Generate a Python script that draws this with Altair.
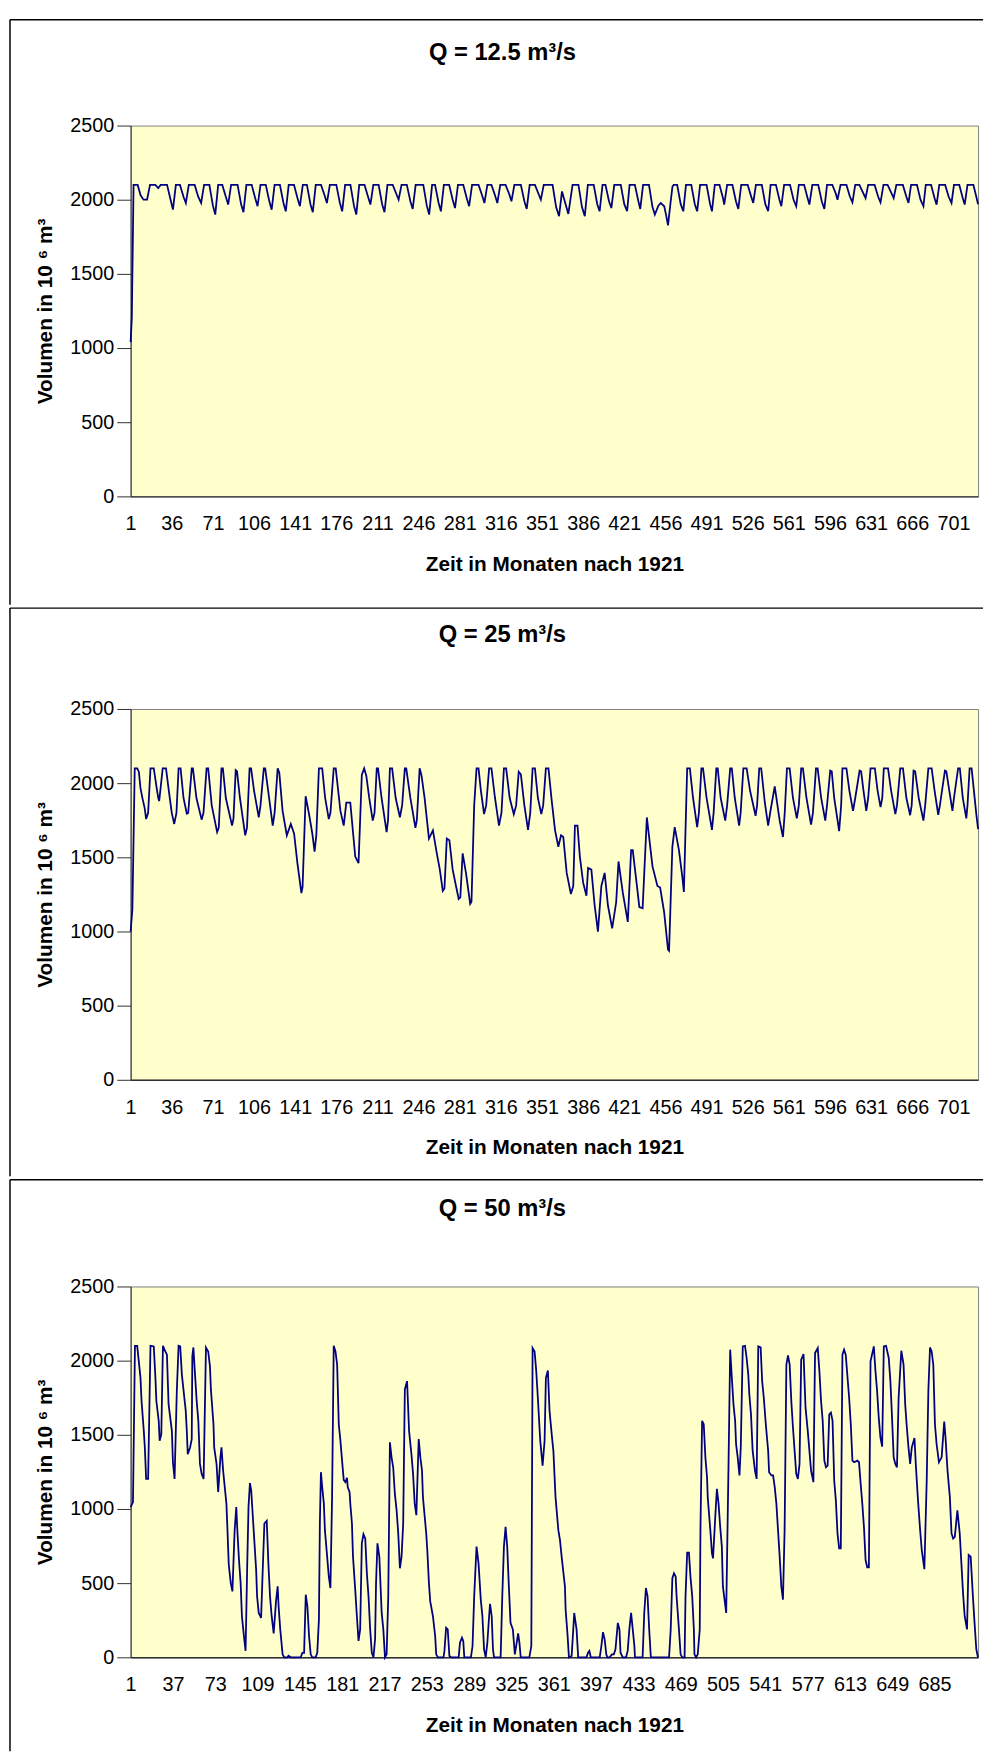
import altair as alt
import pandas as pd

# ---------------------------------------------------------------- texts
TITLES = ["Q = 12.5 m³/s", "Q = 25 m³/s", "Q = 50 m³/s"]
X_TITLE = "Zeit in Monaten nach 1921"
Y_TITLE = "Volumen in 10  ⁶ m³"

# ---------------------------------------------------------------- tick labels
X_TICKS_35 = [1, 36, 71, 106, 141, 176, 211, 246, 281, 316, 351, 386, 421,
              456, 491, 526, 561, 596, 631, 666, 701]
X_TICKS_36 = [1, 37, 73, 109, 145, 181, 217, 253, 289, 325, 361, 397, 433,
              469, 505, 541, 577, 613, 649, 685]
Y_TICKS = [0, 500, 1000, 1500, 2000, 2500]
X_DOMAIN = [1, 722]

# ---------------------------------------------------------------- series (month, volume in 10^6 m3)
P1 = [
    (1, 1040), (2, 1200), (3.5, 2100), (7, 2100), (9.5, 2030), (12, 2000), (15, 2000), (17.5, 2100),
    (22, 2100), (24.5, 2078), (26.5, 2100), (32, 2100), (35, 2000), (37, 1933), (39.5, 2100),
    (43, 2100), (46, 2020), (48, 1978), (50.5, 2100), (55.5, 2100), (58.5, 2020), (61, 1978), (63.5, 2100),
    (68, 2100), (71, 1960), (73, 1900), (75.5, 2100), (79, 2100), (82, 2020), (84, 1967), (86.5, 2100),
    (92, 2100), (95, 1970), (97, 1916), (99.5, 2100), (104, 2100), (107, 2010), (109, 1956), (111.5, 2100),
    (116, 2100), (119, 1990), (121, 1933), (123.5, 2100), (128, 2100), (131, 1980), (133, 1922), (135.5, 2100),
    (140, 2100), (143, 2010), (145, 1956), (147.5, 2100), (151, 2100), (154, 1970), (156, 1916), (158.5, 2100),
    (163, 2100), (166, 2030), (168, 1978), (170.5, 2100), (176, 2100), (179, 1980), (181, 1922), (183.5, 2100),
    (188, 2100), (191, 1960), (193, 1900), (195.5, 2100), (200, 2100), (203, 2020), (205, 1967), (207.5, 2100),
    (212, 2100), (215, 1970), (217, 1916), (219.5, 2100), (224, 2100), (227, 2040), (229, 2000), (231.5, 2100),
    (236, 2100), (239, 1990), (241, 1938), (243.5, 2100), (250, 2100), (253, 1960), (255, 1900), (257.5, 2100),
    (260, 2100), (263, 1980), (265, 1922), (267.5, 2100), (272, 2100), (275, 2000), (277, 1944), (279.5, 2100),
    (284, 2100), (287, 2010), (289, 1956), (291.5, 2100), (297, 2100), (300, 2030), (302, 1978), (304.5, 2100),
    (308, 2100), (311, 2030), (313, 1978), (315.5, 2100), (320, 2100), (323, 2040), (325, 1989), (327.5, 2100),
    (333, 2100), (336, 1990), (338, 1938), (340.5, 2100), (345, 2100), (348, 2040), (350, 2000), (352.5, 2100),
    (360, 2100), (363, 1950), (365.5, 1889), (368, 2056), (370, 2000), (373.4, 1904), (377, 2100),
    (382, 2100), (385, 1950), (387.4, 1889), (390, 2100), (395, 2100), (398, 1970), (400, 1922), (402.5, 2100),
    (405, 2100), (408, 1990), (410, 1944), (412.5, 2100), (418, 2100), (421, 1970), (423.4, 1922), (425.5, 2100),
    (430, 2100), (433, 1990), (434.6, 1938), (437, 2100), (442, 2100), (445, 1950), (447, 1900), (450, 1960),
    (452, 1978), (455, 1956), (456.5, 1900), (458.2, 1827), (460.5, 1990), (462, 2089), (463, 2100),
    (466, 2100), (469, 1970), (471.2, 1922), (473.5, 2100), (478, 2100), (481, 1970), (483, 1922), (485.5, 2100),
    (491, 2100), (494, 1970), (495.6, 1922), (498, 2100), (502, 2100), (505, 2010), (506, 1967), (508.5, 2100),
    (513, 2100), (516, 1990), (518, 1938), (520.5, 2100), (526, 2100), (529, 2020), (530.7, 1978), (533, 2100),
    (538, 2100), (541, 1970), (543.4, 1922), (545.5, 2100), (550, 2100), (553, 2000), (554.6, 1956), (557, 2100),
    (562, 2100), (565, 2000), (567.3, 1956), (569.5, 2100), (574, 2100), (577, 2010), (578.5, 1967), (581, 2100),
    (586, 2100), (589, 1990), (591.2, 1938), (593.5, 2100), (598, 2100), (601, 2040), (602.4, 2000), (605, 2100),
    (610, 2100), (613, 2020), (615.1, 1982), (617.5, 2100), (621, 2100), (624, 2050), (626.3, 2011), (628.5, 2100),
    (634, 2100), (637, 2020), (639, 1982), (641.5, 2100), (645, 2100), (648, 2050), (650.2, 2011), (652.5, 2100),
    (658, 2100), (661, 2020), (662.8, 1978), (665, 2100), (670, 2100), (673, 2000), (675.5, 1956), (677.5, 2100),
    (682, 2100), (685, 2010), (686.7, 1967), (689, 2100), (694, 2100), (697, 2020), (699.4, 1978), (701.5, 2100),
    (706, 2100), (709, 2010), (710.6, 1967), (713, 2100), (718, 2100), (720.5, 2020), (722, 1970),
]

P2 = [
    (1, 1000), (2.5, 1150), (4.5, 2100), (6.6, 2100), (8, 2077), (9.4, 1967), (11, 1901), (13, 1830),
    (14.2, 1758), (15.9, 1800), (17.9, 2100), (20.7, 2100), (23.5, 1950), (24.5, 1901), (25.3, 1879),
    (28.3, 2100), (31.1, 2100), (33.5, 1950), (36, 1800), (38.1, 1725), (40, 1800), (41.8, 2100),
    (43.5, 2100), (46, 1900), (48.8, 1795), (50, 1800), (53, 2100), (54, 2100), (57, 1900), (61.4, 1754),
    (63, 1800), (65.6, 2100), (67, 2100), (70, 1850), (74.6, 1670), (76, 1700), (78.3, 2100), (79.5, 2100),
    (82, 1900), (87.3, 1714), (88.5, 1760), (90.4, 2088), (91.5, 2080), (94, 1900), (98.5, 1648), (100, 1700),
    (102.2, 2100), (103.5, 2100), (106, 1950), (110, 1770), (111.5, 1850), (114.3, 2100), (115.5, 2100),
    (118, 1950), (121.9, 1714), (123.5, 1800), (126.1, 2100), (127.5, 2070), (130.3, 1813), (133.9, 1648),
    (137.3, 1725), (140.1, 1659), (142.9, 1461), (146.3, 1259), (147.3, 1300), (149.9, 1912), (152.8, 1791),
    (155.6, 1659), (157.5, 1538), (159, 1650), (161.2, 2100), (164, 2100), (166.5, 1900), (169.6, 1758),
    (171, 1800), (173.8, 2100), (175.5, 2100), (179.5, 1813), (182.3, 1714), (184.5, 1868), (187.9, 1868),
    (192.1, 1505), (194.9, 1461), (197.7, 2055), (199.7, 2100), (201.5, 2050), (204, 1900), (207, 1747),
    (208.5, 1800), (210.4, 2100), (211.5, 2100), (214.5, 1900), (218.8, 1670), (220, 1750), (221.6, 2100),
    (223.5, 2100), (226.5, 1900), (230.1, 1770), (232, 1850), (234.3, 2100), (235.5, 2100), (239, 1900),
    (243.3, 1699), (244.5, 1750), (246.9, 2100), (248.5, 2050), (251.1, 1901), (254.8, 1626), (258.2, 1681),
    (261.5, 1527), (264, 1420), (266.6, 1274), (268, 1290), (270, 1626), (272.2, 1615), (275, 1417),
    (278, 1300), (280.1, 1219), (281.5, 1230), (283.5, 1527), (286.3, 1395), (289.9, 1186), (291, 1200),
    (293.3, 1850), (295.3, 2100), (297, 2100), (299, 1950), (301.7, 1791), (303.5, 1850), (306, 2100),
    (308, 2100), (311, 1900), (314.4, 1714), (316.5, 1800), (318.6, 2100), (320.5, 2100), (323.5, 1900),
    (327, 1791), (329, 1850), (331.2, 2077), (333, 2060), (336, 1850), (339.1, 1685), (341, 1800),
    (343, 2100), (345, 2100), (347.5, 1900), (350.4, 1791), (352, 1850), (354.3, 2100), (356.5, 2100),
    (359.3, 1879), (362.1, 1681), (364.9, 1571), (367.2, 1648), (369.1, 1637), (372, 1395), (375.6, 1252),
    (377.6, 1307), (379, 1714), (381.2, 1714), (383.2, 1505), (386, 1329), (388.8, 1241), (390.2, 1428),
    (393, 1417), (395.8, 1175), (398.6, 999), (401.5, 1307), (404.3, 1395), (407.1, 1175), (410.7, 1021),
    (414.1, 1197), (416.1, 1472), (419.7, 1263), (424, 1065), (426.8, 1549), (428.2, 1549), (432.4, 1263),
    (433.8, 1164), (436.6, 1157), (440.2, 1769), (445, 1439), (449.2, 1307), (451.5, 1296), (454.9, 1131),
    (458.2, 878), (459.1, 870), (461.9, 1571), (463.9, 1703), (467.5, 1549), (470.3, 1373), (471.7, 1267),
    (474.5, 2100), (476.8, 2100), (479.5, 1900), (483, 1703), (484.5, 1800), (486.6, 2100), (488, 2100),
    (491, 1900), (495.6, 1685), (497, 1800), (499.3, 2100), (500.5, 2100), (503, 1900), (506.9, 1747),
    (508.5, 1850), (511.1, 2100), (512.5, 2100), (515, 1900), (518.7, 1714), (520, 1800), (522.3, 2100),
    (525.1, 2100), (528, 1950), (532.7, 1780), (534, 1850), (535.8, 2100), (537.5, 2100), (540.6, 1868),
    (543.4, 1714), (545.6, 1824), (549, 1978), (553.2, 1747), (556, 1637), (557.5, 1800), (559.4, 2100),
    (561.7, 2100), (564.5, 1900), (567.8, 1762), (569.5, 1850), (571.5, 2100), (573, 2100), (576, 1900),
    (579.9, 1721), (581.5, 1800), (584.1, 2100), (585.5, 2100), (588.5, 1900), (592, 1747), (593.5, 1850),
    (596.2, 2085), (597.5, 2080), (599.6, 1900), (603.8, 1677), (605.5, 1850), (606.6, 2100), (610, 2100),
    (612.5, 1950), (615.6, 1813), (617.5, 1900), (621.2, 2085), (622.5, 2080), (624.5, 1950), (626.9, 1813),
    (628.5, 1900), (630.5, 2100), (634.2, 2100), (636.5, 1950), (639, 1839), (640.5, 1900), (641.8, 2100),
    (645.4, 2100), (648, 1950), (651.6, 1791), (653, 1850), (655.8, 2100), (658.1, 2100), (661, 1900),
    (664.2, 1784), (665.5, 1850), (667.1, 2085), (668.5, 2080), (671.5, 1900), (675.5, 1747), (677, 1850),
    (679.7, 2100), (682.5, 2100), (685, 1950), (688.1, 1787), (689.5, 1850), (693.8, 2085), (695, 2080),
    (697.5, 1950), (700.2, 1813), (701.5, 1900), (705, 2100), (706.5, 2100), (709, 1900), (712, 1762),
    (713, 1850), (714.8, 2100), (716.5, 2100), (720.5, 1791), (722, 1690),
]

P3 = [
    (1, 1013), (3, 1047), (4.7, 2100), (6.6, 2100), (9.4, 1884), (10.3, 1728), (12.2, 1527), (13.1, 1415),
    (14.2, 1203), (15.9, 1203), (17.9, 2100), (20.7, 2096), (22.1, 1884), (22.9, 1728), (24.9, 1594),
    (25.7, 1460), (27.1, 1504), (28.5, 2100), (30.5, 2062), (31.9, 2040), (33.3, 1705), (36.1, 1527),
    (37, 1315), (38.4, 1203), (40.3, 1795), (41.8, 2100), (43.2, 2096), (44.6, 1906), (47.9, 1661),
    (48.8, 1527), (49.6, 1370), (51.6, 1415), (53, 1471), (53.5, 2029), (54.4, 2089), (55.8, 1906),
    (57.2, 1728), (58.6, 1594), (60, 1304), (61.4, 1237), (63.1, 1203), (65.1, 2089), (67, 2062),
    (68.5, 1962), (69.3, 1806), (71.5, 1571), (72.1, 1415), (74.1, 1304), (75.5, 1114), (77.4, 1348),
    (78.3, 1415), (79.7, 1259), (81.1, 1147), (82.5, 1036), (83.3, 879), (84.5, 624), (86.2, 500),
    (87.6, 444), (89.5, 857), (90.9, 1013), (91.8, 857), (93.2, 656), (94.6, 500), (95.7, 277), (97.4, 143),
    (98.8, 43), (100.2, 620), (101.3, 1013), (102.5, 1174), (103.6, 1125), (105, 946), (106.4, 768),
    (107.8, 589), (108.6, 411), (110, 299), (112, 266), (113.4, 589), (114.8, 902), (116.8, 920),
    (118.2, 634), (119.6, 411), (121, 277), (122.7, 161), (124.7, 377), (126.1, 478), (126.9, 344),
    (128.3, 188), (130.3, 20), (131.7, 0), (134.5, 0), (135.3, 10), (137.3, 0), (145.7, 0), (147.1, 30),
    (148.6, 30), (150, 422), (151.4, 344), (152.8, 143), (154.2, 20), (155.6, 0), (158.4, 0), (159.8, 30),
    (161.2, 255), (162, 902), (162.9, 1248), (164, 1147), (165.4, 1036), (166.3, 857), (168.2, 679),
    (169.6, 545), (171, 467), (172.4, 1080), (173.8, 2100), (175.3, 2062), (176.7, 1973), (178.1, 1571),
    (179.5, 1460), (180.9, 1326), (182.3, 1196), (183.7, 1181), (185.1, 1210), (185.7, 1147), (187.3, 1114),
    (187.9, 1036), (189.3, 902), (190.2, 679), (192.1, 455), (193.5, 277), (194.9, 111), (196.3, 188),
    (197.7, 768), (199.1, 830), (200.6, 801), (202, 567), (203.4, 411), (204.8, 188), (206.2, 31),
    (207.6, 0), (209, 123), (209.8, 500), (211, 768), (212.6, 679), (214.6, 299), (216, 188), (217.4, 0),
    (218.8, 20), (220.2, 411), (221.6, 1449), (223, 1348), (224.4, 1281), (225.8, 1103), (227.3, 991),
    (228.7, 835), (230.1, 600), (231.5, 679), (232.9, 902), (234.3, 1806), (236.2, 1862), (237.9, 1527),
    (239.9, 1370), (241.3, 1237), (242.7, 1036), (244.1, 958), (245, 1192), (246.1, 1471), (247.5, 1348),
    (248.9, 1259), (249.7, 1080), (252.5, 835), (253.4, 723), (254.8, 500), (255.9, 377), (258.2, 277),
    (260.1, 143), (261, 20), (262.4, 0), (267.2, 0), (268, 43), (269.4, 199), (270.8, 188), (272.2, 9),
    (273.6, 0), (280.1, 0), (281.2, 98), (282.9, 132), (284, 110), (284.9, 0), (290.5, 0), (291.9, 76),
    (293.3, 411), (295.3, 746), (297, 634), (298.9, 389), (300.3, 277), (301.7, 54), (303.1, 0),
    (304.5, 98), (306, 277), (306.8, 361), (308.2, 277), (309.3, 54), (310.2, 0), (315.8, 0), (317.2, 411),
    (318.6, 746), (320, 879), (321.4, 746), (322.8, 478), (324.2, 232), (326.2, 188), (327.9, 20),
    (329, 76), (330.7, 161), (331.8, 98), (332.9, 0), (340.2, 0), (341.9, 76), (343, 2085), (344.7, 2062),
    (346.1, 1929), (347.3, 1772), (349.5, 1460), (351.5, 1292), (353.2, 1460), (354.3, 1884), (356, 1933),
    (357.4, 1661), (359.3, 1500), (360.7, 1390), (362.5, 1080), (364.9, 857), (366.3, 790), (367.7, 679),
    (370.5, 478), (371.1, 321), (372.8, 143), (373.9, 0), (376.2, 9), (377.6, 188), (378.4, 299),
    (380.4, 188), (381.8, 0), (388.8, 0), (390.2, 31), (391.3, 43), (392.5, 0), (400.1, 0), (401.5, 76),
    (402.9, 170), (404.3, 121), (405.7, 20), (406.5, 0), (408.5, 0), (410.5, 20), (412.1, 20), (413.5, 54),
    (415.5, 232), (416.9, 188), (417.8, 31), (419.7, 0), (422.5, 0), (423.9, 43), (425.3, 188), (426.8, 299),
    (428.2, 188), (429.6, 76), (430.1, 0), (436.6, 0), (438, 299), (439.4, 467), (440.8, 411), (442.2, 188),
    (443.6, 0), (459.1, 0), (460.5, 188), (461.9, 533), (463.3, 567), (464.7, 545), (465.5, 411),
    (467.5, 188), (468.9, 20), (470.3, 0), (472.3, 0), (473.1, 411), (474.5, 705), (476, 705), (477.3, 545),
    (478.8, 411), (480.2, 188), (480.7, 20), (482.1, 0), (483.5, 20), (485.2, 188), (485.8, 857),
    (487.2, 1594), (488.6, 1571), (490, 1348), (491.4, 1214), (492, 1080), (494.2, 857), (495.6, 701),
    (496.5, 667), (498.4, 946), (499.8, 1136), (501.2, 1036), (502.6, 879), (504, 746), (504.9, 478),
    (506.3, 389), (507.7, 299), (509.7, 1304), (511.1, 2074), (512.5, 1884), (513.9, 1705), (515.3, 1594),
    (516.1, 1438), (517.5, 1348), (519, 1226), (520.1, 1415), (521.8, 2096), (523.7, 2100), (525.1, 2018),
    (526.5, 1906), (527.4, 1772), (528.8, 1638), (530.2, 1393), (532.2, 1259), (533.6, 1203), (535, 2096),
    (537, 2089), (538.3, 1862), (539.7, 1750), (541.4, 1571), (543.4, 1393), (544.2, 1248), (546.2, 1226),
    (547.6, 1226), (549, 1147), (550.4, 1036), (551.8, 857), (553.2, 679), (554.6, 478), (556, 389),
    (557.4, 857), (558.9, 1973), (560.3, 2036), (561.7, 1973), (563.1, 1728), (564.5, 1549), (567.3, 1237),
    (568.7, 1203), (570.1, 1304), (571.5, 2007), (573.5, 2045), (575.2, 1683), (577.1, 1527), (578.5, 1393),
    (579.9, 1259), (581.9, 1181), (583.3, 2051), (585.6, 2085), (587, 1929), (588.4, 1728), (589.8, 1594),
    (591.2, 1326), (592.6, 1281), (594, 1292), (595.4, 1638), (596.8, 1650), (598.2, 1594), (599.6, 1192),
    (601, 1058), (602.4, 835), (603.8, 734), (605.2, 734), (606.6, 2040), (608, 2074), (609.4, 2040),
    (612.3, 1750), (613.7, 1571), (615.1, 1326), (616.5, 1315), (619.3, 1326), (620.7, 1315), (622.1, 1170),
    (623.5, 1036), (624.9, 879), (626.3, 656), (627.7, 607), (629.1, 607), (630.5, 1996), (633.3, 2096),
    (634.7, 1929), (636.1, 1795), (637.5, 1616), (638.9, 1482), (640.4, 1420), (641.8, 2096), (643.7, 2100),
    (646, 2018), (647.4, 1862), (648.8, 1616), (650.2, 1348), (651.6, 1304), (653, 1281), (654.4, 1750),
    (656.7, 2067), (658.6, 1973), (660, 1705), (661.4, 1549), (662.8, 1415), (664.2, 1304), (665.6, 1415),
    (667.9, 1478), (669, 1304), (670.7, 1080), (672.7, 857), (674.1, 723), (676.3, 594), (678.3, 1192),
    (679.7, 1795), (681.1, 2089), (682.5, 2062), (683.9, 1973), (685.3, 1571), (686.7, 1438), (688.7, 1315),
    (691, 1348), (693.2, 1589), (694.3, 1482), (696, 1259), (698, 1080), (699.4, 835), (700.8, 801),
    (702.2, 812), (704.4, 991), (706.4, 835), (707.8, 634), (709.2, 433), (710.6, 277), (712.6, 188),
    (714, 690), (715.7, 679), (717.6, 411), (719, 232), (720.5, 54), (721.9, 0),
]

FONT = "Liberation Sans"
PLOT_W, PLOT_H = 857, 375


def panel(pairs, title, xticks, plot_top, box_top, box_bottom, title_y):
    df = pd.DataFrame(pairs, columns=["Monat", "Volumen"])
    df["Reihenfolge"] = range(len(df))
    line = alt.Chart(df).mark_line(color="#000080", strokeWidth=1.8).encode(
        x=alt.X("Monat:Q",
                scale=alt.Scale(domain=X_DOMAIN, nice=False, zero=False),
                axis=alt.Axis(values=xticks, title=X_TITLE, ticks=False, tickSize=0,
                              labelPadding=28, labelBaseline="middle", labelFlush=False,
                              labelOverlap=False, grid=False, domainColor="#303030",
                              domainWidth=1.5, titleY=69, titleBaseline="middle")),
        y=alt.Y("Volumen:Q",
                scale=alt.Scale(domain=[0, 2500], nice=False),
                axis=alt.Axis(values=Y_TICKS, format="d", title=Y_TITLE, tickSize=14,
                              labelPadding=3, grid=False, domainColor="#303030",
                              tickColor="#303030", titleAngle=270, titleX=-86,
                              titleY=PLOT_H / 2, titleAlign="center",
                              titleBaseline="middle")),
        order=alt.Order("Reihenfolge:Q"),
    )
    deco = pd.DataFrame({"k": [0]})
    # chart heading (kept as real text)
    heading = alt.Chart(deco).mark_text(
        font=FONT, fontSize=24, fontWeight="bold", color="black",
        align="center", baseline="middle",
    ).encode(x=alt.value(376), y=alt.value(title_y - plot_top), text=alt.value(title))
    # Excel chart-area frame lines
    top_rule = alt.Chart(deco).mark_rule(color="black", strokeWidth=1.5).encode(
        x=alt.value(-122), x2=alt.value(862), y=alt.value(box_top - plot_top))
    left_rule = alt.Chart(deco).mark_rule(color="black", strokeWidth=1.5).encode(
        x=alt.value(-122), y=alt.value(box_top - plot_top), y2=alt.value(box_bottom - plot_top))
    return alt.layer(line, heading, top_rule, left_rule).properties(
        width=PLOT_W, height=PLOT_H)


p1 = panel(P1, TITLES[0], X_TICKS_35, 115, 8, 599.5, 42)
p2 = panel(P2, TITLES[1], X_TICKS_35, 703, 601, 1175.5, 628)
p3 = panel(P3, TITLES[2], X_TICKS_36, 1285, 1177, 1755, 1207)

chart = alt.vconcat(p1, p2, p3, spacing=0).properties(
    padding=0, background="white"
).configure_view(
    fill="#FFFFCC", stroke="#808080", strokeWidth=1
).configure_axis(
    labelFont=FONT, labelFontSize=20, labelColor="black",
    titleFont=FONT, titleFontSize=21, titleFontWeight="bold", titleColor="black",
)

chart.save("out.html", embed_options={"renderer": "svg", "actions": False})
